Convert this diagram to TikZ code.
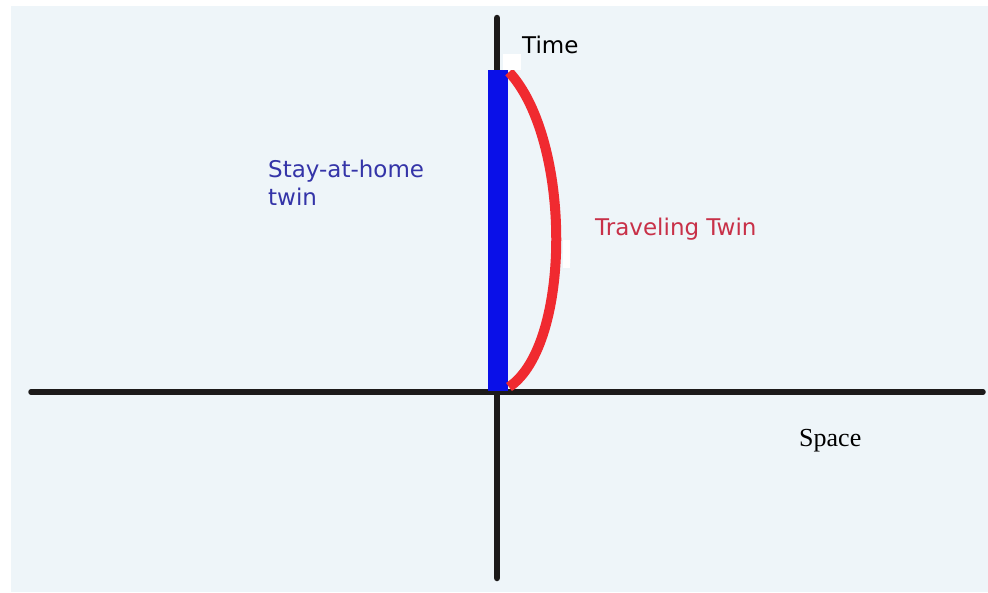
\documentclass[tikz,border=0pt]{standalone}
\usepackage{fontspec}
\setmainfont{Liberation Serif}
\newfontfamily\labelfont{DejaVu Sans}
\definecolor{bgblue}{HTML}{EEF5F9}
\definecolor{axisblack}{HTML}{1C1A1A}
\definecolor{homeblue}{HTML}{0A10E8}
\definecolor{travelred}{HTML}{F02A30}
\definecolor{hometext}{HTML}{3434A8}
\definecolor{traveltext}{HTML}{C83048}
\tikzset{
  axisline/.style={draw=axisblack, line cap=round},
  lbl/.style={anchor=base west, inner sep=0pt, font=\labelfont\fontsize{23}{28}\selectfont},
}
\begin{document}
\begin{tikzpicture}[x=1pt,y=-1pt]
\useasboundingbox (0,0) rectangle (988,592);
\fill[white] (0,0) rectangle (988,592);
\fill[bgblue] (11,6) rectangle (988,592);
% axes
\coordinate (ytop) at (497,18);
\coordinate (ybot) at (497,578);
\coordinate (xleft) at (31,392);
\coordinate (xright) at (983,392);
\draw[axisline, line width=6.5] (ytop) -- (ybot);
\draw[axisline, line width=5.5] (xleft) -- (xright);
% stay-at-home worldline
\fill[homeblue] (488,70) rectangle (508,391);
% traveling twin worldline
\coordinate (rtop) at (509,72);
\coordinate (rbot) at (509,387);
\draw[travelred, line width=10] (rtop) .. controls (572,140) and (572,345) .. (rbot);
% small white patches
\fill[white] (503,54) rectangle (521,70);
\fill[white] (563,240) rectangle (570,268);
% labels
\node[lbl] (time) at (522,53) {Time};
\node[lbl, text=hometext] (stay1) at (268,177) {Stay-at-home};
\node[lbl, text=hometext] (stay2) at (268,205) {twin};
\node[lbl, text=traveltext] (travel) at (595,235) {Traveling Twin};
\node[anchor=base west, inner sep=0pt, font=\fontsize{26}{30}\selectfont] (space) at (799,446) {Space};
\end{tikzpicture}
\end{document}
